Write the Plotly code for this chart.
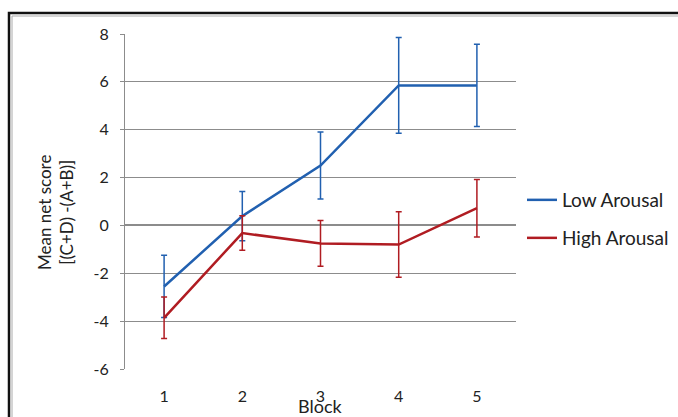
import plotly.graph_objects as go

blocks = [1, 2, 3, 4, 5]
low_mean = [-2.55, 0.39, 2.5, 5.85, 5.85]
low_err = [1.3, 1.03, 1.4, 2.0, 1.72]
high_mean = [-3.86, -0.32, -0.75, -0.8, 0.72]
high_err = [0.87, 0.72, 0.96, 1.37, 1.2]
y_ticks = [-6, -4, -2, 0, 2, 4, 6, 8]
y_tick_text = ["-6", "-4", "-2", "0", "2", "4", "6", "8"]

BLUE = "#2160b0"
RED = "#b01c22"
GRID = "#8c8c8c"
FONT = "Lato"

W, H = 678, 417
L, R, T, B = 125, 162, 34, 48
pw, ph = W - L - R, H - T - B

def px_x(p):
    return (p - L) / pw

def px_y(p):
    return (H - B - p) / ph

fig = go.Figure()
fig.add_trace(go.Scatter(
    x=blocks, y=low_mean, mode="lines", name="Low Arousal",
    line=dict(color=BLUE, width=2.5),
    error_y=dict(type="data", array=low_err, color=BLUE, thickness=1.5, width=3),
    legend="legend",
))
fig.add_trace(go.Scatter(
    x=blocks, y=high_mean, mode="lines", name="High Arousal",
    line=dict(color=RED, width=2.5),
    error_y=dict(type="data", array=high_err, color=RED, thickness=1.5, width=3),
    legend="legend2",
))

fig.update_layout(
    width=W, height=H,
    margin=dict(l=L, r=R, t=T, b=B, autoexpand=False),
    paper_bgcolor="white", plot_bgcolor="white",
    font=dict(family=FONT, size=16, color="#222"),
    legend=dict(x=px_x(522), y=px_y(200), xanchor="left", yanchor="middle",
                font=dict(size=19, color="#222"), bgcolor="rgba(0,0,0,0)"),
    legend2=dict(x=px_x(522), y=px_y(238), xanchor="left", yanchor="middle",
                 font=dict(size=19, color="#222"), bgcolor="rgba(0,0,0,0)"),
    xaxis=dict(range=[0.5, 5.5], tickvals=blocks, showgrid=False,
               showline=False, ticks="", tickfont=dict(size=16, color="#222"),
               ticklabelstandoff=16, zeroline=False),
    yaxis=dict(range=[-6, 8], tickvals=y_ticks, ticktext=y_tick_text,
               showgrid=True, gridcolor=GRID,
               gridwidth=1, showline=True, linecolor=GRID, linewidth=1,
               ticks="outside", ticklen=4, tickcolor=GRID,
               tickfont=dict(size=16, color="#222"), ticklabelstandoff=8,
               zeroline=True, zerolinecolor=GRID, zerolinewidth=1.5),
    showlegend=True,
)

fig.add_annotation(text="Block", xref="paper", yref="paper",
                   x=px_x(320), y=px_y(406), xanchor="center", yanchor="middle",
                   showarrow=False, font=dict(size=18, color="#222"))
fig.add_annotation(text="Mean net score<br>[(C+D) -(A+B)]", xref="paper", yref="paper",
                   x=px_x(55), y=px_y(213), xanchor="center", yanchor="middle",
                   showarrow=False, textangle=-90,
                   font=dict(size=17, color="#222"))

# outer frame
fig.add_shape(type="rect", xref="paper", yref="paper",
              x0=px_x(9), x1=px_x(700), y0=px_y(13), y1=px_y(440),
              line=dict(color="#111", width=2.5), layer="below")
fig.add_shape(type="rect", xref="paper", yref="paper",
              x0=px_x(12), x1=px_x(700), y0=px_y(16), y1=px_y(440),
              line=dict(color="#aaa", width=1), layer="below")

fig.write_html("out.html")
